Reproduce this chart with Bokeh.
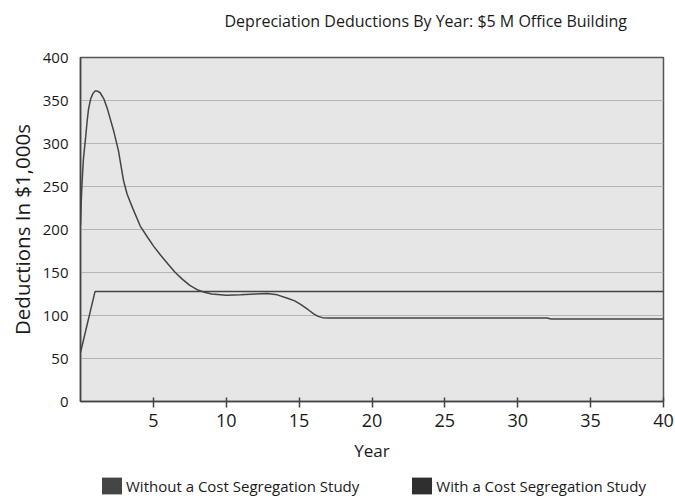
from bokeh.plotting import figure
from bokeh.layouts import column
from bokeh.models import Range1d, FixedTicker, Legend, LegendItem, Label
from bokeh.embed import file_html
from bokeh.resources import INLINE

# ---- data ----
years_without = [0, 1, 40]
ded_without = [57, 128, 128]

years_with = [0, 0.05, 0.1, 0.2, 0.34, 0.45, 0.55, 0.7, 0.85, 1.0, 1.16, 1.35, 1.6, 1.85,
              2.05, 2.3, 2.6, 2.8, 2.95, 3.2, 3.6, 4.1, 4.6, 5, 5.5, 6, 6.5, 7, 7.5,
              8, 8.5, 9, 10, 11, 12, 12.8, 13.5, 14.2, 14.7, 15.1, 15.6, 16, 16.3,
              16.6, 17, 20, 32, 32.3, 40]
ded_with = [205, 232, 252, 282, 305, 325, 340, 352, 358, 361, 361, 359, 352, 340,
            328, 313, 292, 272, 257, 241, 224, 204, 191, 181, 170, 160, 150, 142, 135,
            130, 127, 125, 123.5, 124, 125, 125.5, 124, 120, 117, 113, 107, 102, 99,
            97.5, 97, 97, 97, 96, 96]

y_ticks = [0, 50, 100, 150, 200, 250, 300, 350, 400]
x_ticks = [5, 10, 15, 20, 25, 30, 35, 40]
title_text = "Depreciation Deductions By Year: $5 M Office Building"
legend_labels = ["Without a Cost Segregation Study", "With a Cost Segregation Study"]
legend_colors = ["#454545", "#2f2f2f"]

FONT = "Open Sans"
TXT = "#1a1a1a"


def strip(height):
    f = figure(width=675, height=height, output_backend="svg", toolbar_location=None,
               x_range=Range1d(0, 1), y_range=Range1d(0, 1),
               x_axis_type=None, y_axis_type=None,
               min_border_left=0, min_border_right=0, min_border_top=0, min_border_bottom=0,
               background_fill_color="white", border_fill_color="white")
    f.outline_line_color = None
    f.grid.visible = False
    return f


# title strip (its frame is aligned with the chart's frame)
top = strip(40)
top.add_layout(Label(x=144, y=20, x_units="screen", y_units="screen", text=title_text,
                     text_font=FONT, text_font_size="16px", text_color=TXT,
                     text_align="left", text_baseline="middle"), "center")

p = figure(width=675, height=431, output_backend="svg", toolbar_location=None,
           x_range=Range1d(0, 40), y_range=Range1d(0, 400),
           min_border_left=80, min_border_right=12, min_border_top=17, min_border_bottom=70,
           background_fill_color="#e6e6e6", border_fill_color="white")
p.title.visible = False

p.outline_line_color = "#555555"
p.outline_line_width = 1.5

p.xgrid.visible = False
p.ygrid.ticker = FixedTicker(ticks=y_ticks)
p.ygrid.grid_line_color = "#b5b5b5"
p.ygrid.grid_line_width = 1

p.xaxis.ticker = FixedTicker(ticks=x_ticks)
p.yaxis.ticker = FixedTicker(ticks=y_ticks)
for ax in (p.xaxis, p.yaxis):
    ax.axis_line_color = "#444444"
    ax.axis_line_width = 1.5
    ax.major_label_text_font = FONT
    ax.major_label_text_color = TXT
    ax.axis_label_text_font = FONT
    ax.axis_label_text_font_style = "normal"
    ax.axis_label_text_color = TXT
    ax.minor_tick_line_color = None

p.yaxis.major_label_text_font_size = "15px"
p.yaxis.major_tick_line_color = None
p.yaxis.major_tick_in = 0
p.yaxis.major_tick_out = 0
p.yaxis.major_label_standoff = 12
p.yaxis.axis_label = "Deductions In $1,000s"
p.yaxis.axis_label_text_font_size = "20.5px"
p.yaxis.axis_label_standoff = 4

p.xaxis.major_label_text_font_size = "18px"
p.xaxis.major_tick_line_color = "#444444"
p.xaxis.major_tick_line_width = 1.5
p.xaxis.major_tick_in = 4
p.xaxis.major_tick_out = 6
p.xaxis.major_label_standoff = 6
p.xaxis.axis_label = "Year"
p.xaxis.axis_label_text_font_size = "17px"
p.xaxis.axis_label_standoff = 9

p.line(years_without, ded_without, line_color="#444444", line_width=1.5)
p.line(years_with, ded_with, line_color="#444444", line_width=1.5)

# legend strip below the chart
nan = float("nan")
lg = strip(29)
r1 = lg.quad(left=[nan], right=[nan], top=[nan], bottom=[nan],
             fill_color=legend_colors[0], line_color=None)
r2 = lg.quad(left=[nan], right=[nan], top=[nan], bottom=[nan],
             fill_color=legend_colors[1], line_color=None)
legend = Legend(items=[LegendItem(label=legend_labels[0], renderers=[r1]),
                       LegendItem(label=legend_labels[1], renderers=[r2])],
                orientation="horizontal", location=(19, 4),
                border_line_color=None, background_fill_alpha=0,
                glyph_width=25, glyph_height=21, label_standoff=2, spacing=50,
                padding=0, margin=0,
                label_text_font=FONT, label_text_font_size="15px", label_text_color=TXT)
lg.add_layout(legend, "center")

open("out.html", "w").write(file_html(column(top, p, lg), INLINE))
